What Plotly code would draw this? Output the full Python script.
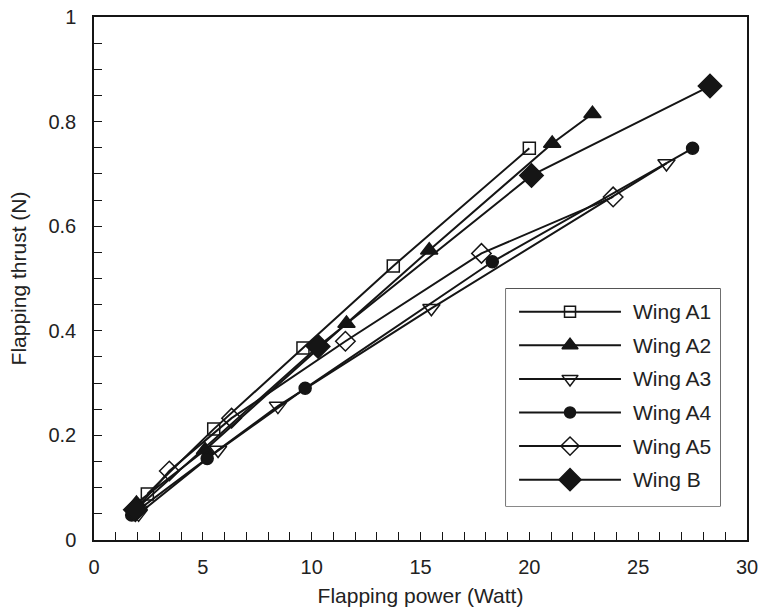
import plotly.graph_objects as go

names = ["Wing A1", "Wing A2", "Wing A3", "Wing A4", "Wing A5", "Wing B"]

a1_x = [2.45, 5.5, 9.6, 13.75, 20.0]
a1_y = [0.088, 0.212, 0.367, 0.524, 0.749]

a2_x = [1.95, 5.1, 11.6, 15.4, 21.05, 22.9]
a2_y = [0.070, 0.172, 0.414, 0.554, 0.758, 0.815]

a3_x = [2.05, 5.7, 8.45, 15.5, 26.3]
a3_y = [0.050, 0.172, 0.256, 0.443, 0.720]

a4_x = [1.73, 5.2, 9.7, 18.3, 27.5]
a4_y = [0.048, 0.156, 0.290, 0.532, 0.749]

a5_x = [2.0, 3.46, 6.32, 11.55, 17.8, 23.85]
a5_y = [0.062, 0.132, 0.233, 0.380, 0.548, 0.656]

b_x = [1.9, 10.3, 20.1, 28.3]
b_y = [0.058, 0.370, 0.697, 0.868]

xs = [a1_x, a2_x, a3_x, a4_x, a5_x, b_x]
ys = [a1_y, a2_y, a3_y, a4_y, a5_y, b_y]

symbols = ["square-open", "triangle-up", "triangle-down-open", "circle", "diamond-open", "diamond"]
sizes = [12, 15, 15, 12, 15, 18]
leg_sizes = [11, 14, 14, 11, 14, 17]

INK = "#151515"
TXT = "#222222"
FONT = "Liberation Sans, Arial, sans-serif"
FS_TICK = 20
FS_TITLE = 21

fig = go.Figure()

for name, x, y, sym, sz in zip(names, xs, ys, symbols, sizes):
    fig.add_trace(go.Scatter(
        x=x, y=y, mode="lines+markers", name=name, showlegend=False,
        line=dict(color=INK, width=2),
        marker=dict(symbol=sym, size=sz, color=INK, line=dict(color=INK, width=1.5)),
        xaxis="x", yaxis="y",
    ))

# custom legend drawn on a hidden helper axis
n = len(names)
row_y = [0.895 - i * 0.1547 for i in range(n)]
for i, (name, sym, sz) in enumerate(zip(names, symbols, leg_sizes)):
    fig.add_trace(go.Scatter(
        x=[0.061, 0.537], y=[row_y[i], row_y[i]], mode="lines", showlegend=False,
        line=dict(color=INK, width=2), xaxis="x2", yaxis="y2", hoverinfo="skip",
    ))
    fig.add_trace(go.Scatter(
        x=[0.299], y=[row_y[i]], mode="markers", showlegend=False,
        marker=dict(symbol=sym, size=sz, color=INK, line=dict(color=INK, width=1.5)),
        xaxis="x2", yaxis="y2", hoverinfo="skip",
    ))
    fig.add_annotation(
        x=0.585, y=row_y[i], xref="x2", yref="y2", text=name, showarrow=False,
        xanchor="left", yanchor="middle", font=dict(family=FONT, size=FS_TITLE, color=TXT),
    )

fig.add_shape(type="rect", xref="x2 domain", yref="y2 domain", x0=0, x1=1, y0=0, y1=1,
              line=dict(color=INK, width=1.2), fillcolor="white", layer="below")

fig.update_layout(
    width=761, height=612,
    margin=dict(l=94, r=14, t=17, b=72),
    paper_bgcolor="white", plot_bgcolor="white",
    font=dict(family=FONT, size=FS_TICK, color=TXT),
    xaxis=dict(
        range=[0, 30], dtick=5, tick0=0, ticks="inside", ticklen=8, tickwidth=1.3,
        tickcolor=INK, showline=True, linecolor=INK, linewidth=1.5, mirror=True,
        showgrid=False, zeroline=False, ticklabelstandoff=8, automargin=False,
        ticklabeloverflow="allow",
        minor=dict(dtick=1, ticks="inside", ticklen=8, tickwidth=1.3, tickcolor=INK, showgrid=False),
        title=dict(text="Flapping power (Watt)", standoff=12, font=dict(size=FS_TITLE)),
        tickfont=dict(size=FS_TICK),
    ),
    yaxis=dict(
        range=[0, 1], dtick=0.2, tick0=0, ticks="inside", ticklen=8, tickwidth=1.3,
        tickcolor=INK, showline=True, linecolor=INK, linewidth=1.5, mirror=True,
        showgrid=False, zeroline=False, ticklabelstandoff=12, automargin=False,
        ticklabeloverflow="allow",
        minor=dict(dtick=0.05, ticks="inside", ticklen=8, tickwidth=1.3, tickcolor=INK, showgrid=False),
        title=dict(text="Flapping thrust (N)", standoff=16, font=dict(size=FS_TITLE)),
        tickfont=dict(size=FS_TICK),
    ),
    xaxis2=dict(domain=[0.631, 0.9587], range=[0, 1], anchor="y2", visible=False, fixedrange=True),
    yaxis2=dict(domain=[0.065, 0.48], range=[0, 1], anchor="x2", visible=False, fixedrange=True),
)

fig.write_html(
    "out.html",
    config={"displayModeBar": False},
    post_script="document.body.style.margin='0';document.body.style.overflow='hidden';",
)
